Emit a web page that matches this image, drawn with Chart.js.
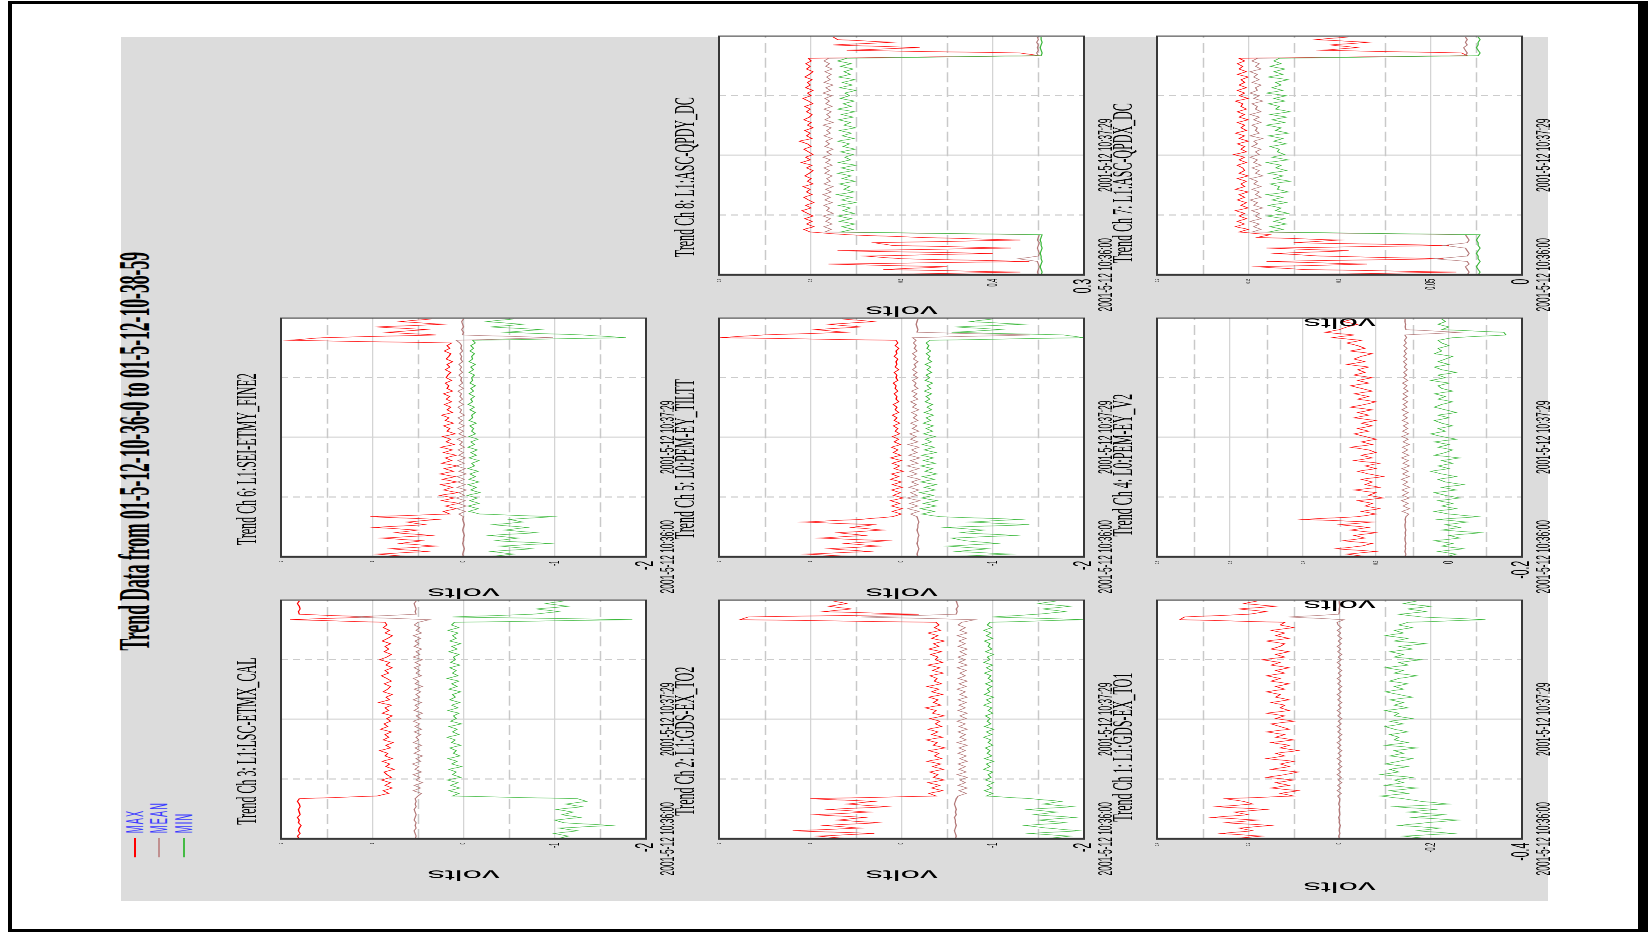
<!DOCTYPE html>
<html>
<head>
<meta charset="utf-8">
<title>Trend Data</title>
<script src="https://cdn.jsdelivr.net/npm/chart.js@4.4.1/dist/chart.umd.min.js"></script>
<style>
  html, body { margin: 0; padding: 0; background: #fff; width: 1648px; height: 932px; overflow: hidden; }
  .bar { position: absolute; background: #000; }
  #sheet { position: absolute; left: 121px; top: 37px; width: 1427px; height: 864px; background: #dcdcdc; }
  /* the sheet is laid out upright, then turned a quarter turn and squeezed along its width */
  #page { position: absolute; left: 0; top: 0; width: 2330px; height: 1648px;
          transform-origin: 0 0; transform: translate(0px, 932px) rotate(-90deg) scale(0.4, 1); }
  .cell { position: absolute; }
  #mainTitle { position: absolute; left: 502px; top: 113px; width: 1400px; text-align: center;
               font: bold 44px 'Liberation Serif', 'Times New Roman', serif; line-height: 44px; color: #000; white-space: nowrap; }
  .lg { position: absolute; left: 187px; height: 24px; display: flex; align-items: center; }
  .lg .sw { width: 48px; height: 2px; margin-right: 12px; }
  .lg .lt { font: 23px 'Liberation Sans', Arial, sans-serif; color: #3a3aff; letter-spacing: 3px; line-height: 24px; }
</style>
</head>
<body>
<div class="bar" style="left:8px;top:1px;width:1640px;height:3px"></div>
<div class="bar" style="left:8px;top:1px;width:4px;height:931px"></div>
<div class="bar" style="left:1638px;top:1px;width:10px;height:931px"></div>
<div class="bar" style="left:8px;top:929px;width:1640px;height:3px"></div>
<div id="sheet"></div>
<div id="page">
  <div id="mainTitle">Trend Data from 01-5-12-10-36-0 to 01-5-12-10-38-59</div>
  <div class="lg" style="top:123px"><span class="sw" style="background:#ff0000"></span><span class="lt">MAX</span></div>
  <div class="lg" style="top:147px"><span class="sw" style="background:#c09090"></span><span class="lt">MEAN</span></div>
  <div class="lg" style="top:172px"><span class="sw" style="background:#44bb44"></span><span class="lt">MIN</span></div>
</div>
<script>
// ---- time axis (seconds after 2001-5-12 10:36:00, one trend sample every 2 s) ----
const TIME_MIN = 0;
const TIME_MAX = 179;
const SAMPLE_STEP = 2;
const TIME_TICKS = [0, 89.5];
const TIME_LABELS = ['2001-5-12 10:36:00', '2001-5-12 10:37:29'];

// ---- volt axes ----
const TICKS_2V = [-2, -1, 0, 1, 2];
const LABELS_2V = ['-2', '-1', '0', '1', '2'];
const CH1_TICKS = [-0.4, -0.2, 0, 0.2, 0.4];
const CH1_LABELS = ['-0.4', '-0.2', '0', '0.2', '0.4'];
const CH4_TICKS = [-0.2, 0, 0.2, 0.4, 0.6, 0.8];
const CH4_LABELS = ['-0.2', '0', '0.2', '0.4', '0.6', '0.8'];
const CH7_TICKS = [0, 0.05, 0.1, 0.15, 0.2];
const CH7_LABELS = ['0', '0.05', '0.1', '0.15', '0.2'];
const CH8_TICKS = [0.3, 0.4, 0.5, 0.6, 0.7];
const CH8_LABELS = ['0.3', '0.4', '0.5', '0.6', '0.7'];

// ---- Ch 1: L1:GDS-EX_TO1 ----
const CH1_MAX = [
  0.24, 0.17, 0.26, 0.19, 0.22, 0.15, 0.25, 0.18, 0.28, 0.20,
  0.23, 0.16, 0.27, 0.19, 0.21, 0.25, 0.10, 0.13, 0.09, 0.15,
  0.11, 0.14, 0.10, 0.16, 0.12, 0.09, 0.15, 0.11, 0.13, 0.10,
  0.16, 0.12, 0.14, 0.09, 0.13, 0.11, 0.15, 0.10, 0.14, 0.12,
  0.16, 0.11, 0.13, 0.15, 0.10, 0.14, 0.12, 0.16, 0.11, 0.13,
  0.12, 0.15, 0.11, 0.14, 0.13, 0.16, 0.12, 0.14, 0.11, 0.15,
  0.13, 0.16, 0.12, 0.14, 0.11, 0.15, 0.13, 0.17, 0.12, 0.14,
  0.11, 0.15, 0.13, 0.12, 0.16, 0.11, 0.14, 0.12, 0.15, 0.10,
  0.13, 0.12, 0.35, 0.34, 0.20, 0.16, 0.22, 0.14, 0.21, 0.18];
const CH1_MEAN = [
  0.000, 0.002, -0.001, 0.001, 0.000, -0.002, 0.001, 0.000, 0.002, -0.001,
  0.000, 0.001, -0.001, 0.002, 0.000, -0.001, 0.004, -0.004, 0.005, -0.003,
  0.004, -0.005, 0.003, -0.004, 0.005, -0.003, 0.004, -0.005, 0.003, -0.004,
  0.005, -0.004, 0.003, -0.005, 0.004, -0.003, 0.005, -0.004, 0.003, -0.005,
  0.004, -0.003, 0.005, -0.004, 0.003, -0.005, 0.004, -0.003, 0.005, -0.004,
  0.003, -0.005, 0.004, -0.003, 0.005, -0.004, 0.003, -0.005, 0.004, -0.003,
  0.005, -0.004, 0.003, -0.005, 0.004, -0.003, 0.005, -0.004, 0.003, -0.005,
  0.004, -0.003, 0.005, -0.004, 0.003, -0.005, 0.004, -0.003, 0.005, -0.004,
  0.003, 0.005, -0.010, 0.110, 0.002, 0.000, 0.001, -0.001, 0.000, 0.001];
const CH1_MIN = [
  -0.20, -0.14, -0.25, -0.17, -0.22, -0.13, -0.19, -0.26, -0.16, -0.23,
  -0.15, -0.21, -0.12, -0.24, -0.18, -0.14, -0.09, -0.15, -0.11, -0.17,
  -0.10, -0.14, -0.12, -0.16, -0.09, -0.13, -0.11, -0.15, -0.10, -0.13,
  -0.16, -0.11, -0.14, -0.12, -0.17, -0.10, -0.15, -0.12, -0.13, -0.11,
  -0.15, -0.12, -0.10, -0.14, -0.11, -0.16, -0.12, -0.13, -0.10, -0.15,
  -0.12, -0.14, -0.11, -0.16, -0.13, -0.10, -0.14, -0.12, -0.15, -0.11,
  -0.13, -0.17, -0.12, -0.14, -0.10, -0.15, -0.13, -0.18, -0.12, -0.14,
  -0.11, -0.16, -0.13, -0.19, -0.12, -0.15, -0.10, -0.14, -0.12, -0.16,
  -0.13, -0.15, -0.32, -0.18, -0.13, -0.19, -0.15, -0.20, -0.14, -0.17];

// ---- Ch 2: L1:GDS-EX_TO2 ----
const CH2_MAX = [
  0.55, 0.92, 0.30, 1.19, 0.45, 0.85, 0.25, 0.70, 0.40, 0.95,
  0.35, 0.80, 0.15, 0.60, 0.30, 1.00, -0.38, -0.30, -0.45, -0.33,
  -0.42, -0.29, -0.47, -0.35, -0.40, -0.31, -0.46, -0.34, -0.43, -0.28,
  -0.44, -0.36, -0.41, -0.30, -0.48, -0.35, -0.39, -0.27, -0.45, -0.33,
  -0.40, -0.29, -0.44, -0.37, -0.42, -0.31, -0.47, -0.34, -0.38, -0.26,
  -0.43, -0.35, -0.40, -0.30, -0.45, -0.33, -0.41, -0.28, -0.44, -0.36,
  -0.39, -0.31, -0.46, -0.34, -0.42, -0.29, -0.45, -0.37, -0.40, -0.32,
  -0.44, -0.30, -0.41, -0.35, -0.47, -0.33, -0.40, -0.29, -0.43, -0.36,
  -0.41, -0.38, 1.77, 1.68, -0.19, 0.86, 0.55, 0.80, 0.60, 0.75];
const CH2_MEAN = [
  -0.59, -0.60, -0.59, -0.58, -0.59, -0.60, -0.59, -0.59, -0.58, -0.60,
  -0.59, -0.60, -0.59, -0.58, -0.59, -0.60, -0.62, -0.71, -0.63, -0.72,
  -0.62, -0.70, -0.64, -0.72, -0.61, -0.71, -0.63, -0.70, -0.62, -0.72,
  -0.64, -0.71, -0.62, -0.70, -0.63, -0.72, -0.61, -0.71, -0.64, -0.70,
  -0.62, -0.72, -0.63, -0.70, -0.61, -0.71, -0.64, -0.72, -0.62, -0.70,
  -0.63, -0.71, -0.62, -0.72, -0.64, -0.70, -0.61, -0.71, -0.63, -0.72,
  -0.62, -0.70, -0.64, -0.71, -0.61, -0.72, -0.63, -0.70, -0.62, -0.71,
  -0.64, -0.72, -0.62, -0.70, -0.63, -0.71, -0.61, -0.72, -0.64, -0.70,
  -0.62, -0.66, -0.81, 0.44, -0.60, -0.61, -0.60, -0.62, -0.61, -0.60];
const CH2_MIN = [
  -1.55, -1.85, -1.40, -1.95, -1.60, -1.35, -1.80, -1.50, -1.90, -1.45,
  -1.70, -1.38, -1.88, -1.55, -1.75, -1.42, -0.93, -1.00, -0.91, -0.99,
  -0.94, -1.01, -0.92, -0.98, -0.95, -1.00, -0.90, -0.97, -0.93, -1.01,
  -0.91, -0.99, -0.94, -0.97, -0.92, -1.00, -0.95, -0.98, -0.90, -0.99,
  -0.93, -1.01, -0.91, -0.98, -0.94, -0.97, -0.92, -1.00, -0.95, -0.99,
  -0.90, -0.98, -0.93, -1.01, -0.91, -0.97, -0.94, -0.99, -0.92, -1.00,
  -0.95, -0.98, -0.91, -0.99, -0.93, -1.00, -0.90, -0.97, -0.94, -1.01,
  -0.92, -0.99, -0.95, -0.97, -0.91, -1.00, -0.93, -0.98, -0.90, -0.99,
  -0.94, -0.97, -2.00, -1.00, -1.48, -1.80, -1.55, -1.85, -1.50, -1.70];

// ---- Ch 3: L1:LSC-ETMX_CAL ----
const CH3_MAX = [
  1.80, 1.82, 1.79, 1.81, 1.80, 1.78, 1.81, 1.80, 1.82, 1.79,
  1.80, 1.81, 1.79, 1.80, 1.82, 1.80, 0.95, 0.82, 0.88, 0.78,
  0.86, 0.80, 0.90, 0.79, 0.84, 0.87, 0.76, 0.85, 0.81, 0.89,
  0.78, 0.86, 0.83, 0.92, 0.80, 0.85, 0.77, 0.88, 0.82, 0.86,
  0.79, 0.91, 0.83, 0.87, 0.80, 0.84, 0.78, 0.89, 0.82, 0.86,
  0.79, 0.93, 0.81, 0.85, 0.78, 0.88, 0.83, 0.80, 0.87, 0.79,
  0.84, 0.90, 0.82, 0.86, 0.78, 0.85, 0.81, 0.92, 0.84, 0.79,
  0.87, 0.82, 0.86, 0.80, 0.89, 0.83, 0.78, 0.86, 0.81, 0.88,
  0.84, 0.86, 1.90, 0.99, 1.80, 1.81, 1.79, 1.80, 1.82, 1.80];
const CH3_MEAN = [
  0.53, 0.52, 0.53, 0.54, 0.52, 0.53, 0.52, 0.54, 0.53, 0.52,
  0.53, 0.54, 0.52, 0.53, 0.52, 0.53, 0.50, 0.46, 0.55, 0.47,
  0.54, 0.45, 0.52, 0.48, 0.55, 0.46, 0.53, 0.49, 0.56, 0.47,
  0.52, 0.45, 0.54, 0.48, 0.53, 0.46, 0.55, 0.49, 0.52, 0.47,
  0.54, 0.46, 0.53, 0.48, 0.55, 0.47, 0.52, 0.45, 0.54, 0.49,
  0.53, 0.46, 0.55, 0.48, 0.52, 0.47, 0.54, 0.45, 0.53, 0.49,
  0.55, 0.46, 0.52, 0.48, 0.54, 0.47, 0.53, 0.45, 0.55, 0.48,
  0.52, 0.46, 0.54, 0.49, 0.53, 0.47, 0.55, 0.46, 0.52, 0.48,
  0.54, 0.50, 0.37, 1.24, 0.52, 0.53, 0.52, 0.53, 0.54, 0.52];
const CH3_MIN = [
  -1.02, -1.15, -0.99, -1.25, -1.05, -1.62, -1.10, -1.00, -1.28, -1.08,
  -1.20, -1.02, -1.30, -1.12, -1.35, -1.25, 0.12, 0.05, 0.16, 0.04,
  0.14, 0.06, 0.18, 0.03, 0.12, 0.08, 0.16, 0.02, 0.13, 0.07,
  0.17, 0.04, 0.11, 0.08, 0.15, 0.03, 0.13, 0.09, 0.18, 0.05,
  0.12, 0.07, 0.16, 0.02, 0.14, 0.08, 0.11, 0.05, 0.17, 0.06,
  0.13, 0.04, 0.15, 0.09, 0.12, 0.03, 0.16, 0.07, 0.13, 0.05,
  0.18, 0.06, 0.12, 0.08, 0.15, 0.04, 0.14, 0.09, 0.11, 0.05,
  0.16, 0.07, 0.13, 0.03, 0.15, 0.08, 0.12, 0.06, 0.17, 0.05,
  0.13, 0.10, -1.85, 0.12, -0.75, -1.05, -0.80, -1.15, -0.90, -1.10];

// ---- Ch 4: L0:PEM-EY_V2 ----
const CH4_MAX = [
  0.22, 0.28, 0.20, 0.31, 0.24, 0.21, 0.29, 0.23, 0.26, 0.20,
  0.27, 0.22, 0.30, 0.21, 0.40, 0.25, 0.20, 0.24, 0.19, 0.23,
  0.21, 0.25, 0.18, 0.22, 0.20, 0.26, 0.19, 0.23, 0.21, 0.24,
  0.18, 0.22, 0.25, 0.20, 0.23, 0.19, 0.26, 0.21, 0.24, 0.20,
  0.22, 0.27, 0.21, 0.24, 0.20, 0.23, 0.26, 0.22, 0.25, 0.21,
  0.24, 0.20, 0.26, 0.22, 0.25, 0.21, 0.27, 0.23, 0.20, 0.25,
  0.22, 0.26, 0.21, 0.24, 0.27, 0.22, 0.25, 0.21, 0.26, 0.23,
  0.25, 0.22, 0.28, 0.23, 0.26, 0.24, 0.21, 0.27, 0.23, 0.25,
  0.28, 0.24, 0.32, 0.26, 0.34, 0.30, 0.28, 0.25, 0.29, 0.26];
const CH4_MEAN = [
  0.120, 0.118, 0.121, 0.119, 0.120, 0.118, 0.120, 0.121, 0.119, 0.120,
  0.118, 0.120, 0.121, 0.119, 0.120, 0.118, 0.110, 0.128, 0.108, 0.126,
  0.112, 0.130, 0.109, 0.127, 0.111, 0.129, 0.108, 0.126, 0.113, 0.130,
  0.109, 0.127, 0.112, 0.129, 0.108, 0.126, 0.111, 0.130, 0.110, 0.127,
  0.113, 0.128, 0.109, 0.126, 0.112, 0.129, 0.110, 0.127, 0.113, 0.125,
  0.111, 0.128, 0.114, 0.126, 0.112, 0.129, 0.115, 0.125, 0.113, 0.127,
  0.114, 0.126, 0.112, 0.124, 0.115, 0.127, 0.113, 0.125, 0.116, 0.124,
  0.114, 0.123, 0.116, 0.125, 0.115, 0.124, 0.117, 0.123, 0.115, 0.124,
  0.117, 0.122, 0.116, 0.121, -0.030, 0.118, 0.120, 0.119, 0.121, 0.120];
const CH4_MIN = [
  0.01, -0.02, 0.03, -0.04, 0.02, -0.01, 0.04, -0.03, 0.00, -0.088,
  0.02, -0.03, 0.01, -0.05, 0.03, -0.08, 0.00, 0.04, -0.02, 0.02,
  -0.01, 0.03, -0.03, 0.01, 0.04, -0.02, 0.02, -0.04, 0.01, 0.03,
  -0.02, 0.02, 0.05, 0.00, 0.03, -0.01, 0.02, -0.03, 0.04, 0.01,
  -0.01, 0.03, 0.00, 0.04, -0.02, 0.02, 0.05, 0.01, 0.03, -0.01,
  0.02, 0.04, 0.00, 0.03, -0.02, 0.01, 0.04, 0.02, -0.01, 0.03,
  0.01, 0.04, -0.01, 0.02, 0.03, 0.00, 0.05, 0.01, 0.03, -0.02,
  0.02, 0.04, 0.00, 0.03, 0.01, -0.01, 0.04, 0.02, 0.03, 0.00,
  0.02, 0.03, -0.01, -0.156, -0.15, 0.02, 0.00, 0.03, 0.01, 0.02];

// ---- Ch 5: L0:PEM-EY_TILTT ----
const CH5_MAX = [
  0.45, 1.05, 0.35, 0.80, 0.25, 0.62, 0.15, 0.90, 0.40, 0.70,
  0.20, 0.55, 0.30, 1.08, 0.45, 0.10, 0.00, 0.10, -0.01, 0.11,
  0.02, 0.12, -0.02, 0.09, 0.01, 0.11, -0.01, 0.10, 0.00, 0.12,
  0.03, 0.11, -0.02, 0.08, 0.02, 0.10, 0.00, 0.12, 0.01, 0.09,
  0.04, 0.11, 0.01, 0.08, 0.03, 0.10, 0.02, 0.07, 0.04, 0.09,
  0.02, 0.08, 0.05, 0.10, 0.03, 0.07, 0.05, 0.09, 0.03, 0.06,
  0.05, 0.08, 0.04, 0.07, 0.06, 0.09, 0.04, 0.06, 0.05, 0.08,
  0.03, 0.07, 0.05, 0.06, 0.04, 0.08, 0.05, 0.06, 0.03, 0.07,
  0.04, 0.06, 1.99, 1.52, 0.60, 0.95, 0.45, 0.80, 0.30, 0.65];
const CH5_MEAN = [
  -0.18, -0.17, -0.18, -0.19, -0.18, -0.17, -0.18, -0.18, -0.19, -0.18,
  -0.17, -0.18, -0.18, -0.19, -0.18, -0.17, -0.10, -0.19, -0.07, -0.18,
  -0.09, -0.20, -0.06, -0.17, -0.10, -0.19, -0.08, -0.18, -0.11, -0.20,
  -0.07, -0.17, -0.09, -0.19, -0.06, -0.18, -0.10, -0.20, -0.08, -0.17,
  -0.11, -0.19, -0.07, -0.18, -0.10, -0.16, -0.09, -0.19, -0.12, -0.17,
  -0.10, -0.18, -0.13, -0.17, -0.11, -0.19, -0.12, -0.16, -0.10, -0.18,
  -0.13, -0.17, -0.11, -0.18, -0.14, -0.16, -0.12, -0.18, -0.13, -0.17,
  -0.12, -0.16, -0.14, -0.18, -0.13, -0.16, -0.12, -0.17, -0.14, -0.16,
  -0.13, -0.16, -0.12, -1.41, -0.17, -0.18, -0.17, -0.16, -0.17, -0.18];
const CH5_MIN = [
  -0.45, -1.20, -0.60, -0.95, -0.50, -1.05, -0.70, -0.55, -1.25, -0.65,
  -0.90, -0.48, -1.40, -0.75, -1.30, -0.42, -0.22, -0.36, -0.21, -0.38,
  -0.24, -0.39, -0.22, -0.35, -0.20, -0.37, -0.25, -0.38, -0.21, -0.36,
  -0.23, -0.39, -0.26, -0.34, -0.21, -0.37, -0.24, -0.35, -0.22, -0.38,
  -0.25, -0.36, -0.23, -0.33, -0.26, -0.37, -0.24, -0.34, -0.27, -0.35,
  -0.24, -0.32, -0.27, -0.35, -0.25, -0.33, -0.28, -0.34, -0.26, -0.31,
  -0.27, -0.33, -0.25, -0.32, -0.28, -0.34, -0.26, -0.31, -0.27, -0.33,
  -0.28, -0.32, -0.26, -0.33, -0.29, -0.31, -0.27, -0.32, -0.28, -0.30,
  -0.27, -0.31, -2.00, -1.78, -0.55, -1.10, -0.60, -1.34, -0.75, -1.00];

// ---- Ch 6: L1:SEI-ETMY_FINE2 ----
const CH6_MAX = [
  0.55, 0.95, 0.40, 0.80, 0.30, 0.70, 0.45, 0.90, 0.35, 0.75,
  0.50, 0.98, 0.42, 0.62, 0.28, 1.02, 0.15, 0.22, 0.08, 0.20,
  0.05, 0.24, 0.10, 0.26, 0.06, 0.22, 0.12, 0.25, 0.07, 0.23,
  0.09, 0.26, 0.11, 0.21, 0.06, 0.24, 0.13, 0.20, 0.08, 0.22,
  0.12, 0.25, 0.10, 0.19, 0.14, 0.23, 0.09, 0.18, 0.15, 0.22,
  0.11, 0.20, 0.16, 0.24, 0.12, 0.18, 0.14, 0.21, 0.13, 0.19,
  0.15, 0.22, 0.12, 0.18, 0.16, 0.20, 0.13, 0.19, 0.17, 0.14,
  0.20, 0.15, 0.18, 0.12, 0.19, 0.16, 0.14, 0.21, 0.15, 0.18,
  0.13, 1.92, 1.54, 0.30, 0.85, 0.40, 0.95, 0.22, 0.70, 0.35];
const CH6_MEAN = [
  0.00, 0.01, 0.00, -0.01, 0.00, 0.01, 0.00, 0.00, -0.01, 0.00,
  0.01, 0.00, -0.01, 0.00, 0.01, 0.00, 0.05, -0.02, 0.07, -0.03,
  0.06, -0.02, 0.08, -0.01, 0.05, -0.03, 0.07, -0.02, 0.06, -0.01,
  0.07, -0.03, 0.05, -0.02, 0.08, -0.01, 0.06, -0.02, 0.05, 0.00,
  0.06, -0.01, 0.04, 0.01, 0.07, -0.02, 0.05, 0.00, 0.06, -0.01,
  0.05, 0.01, 0.06, -0.01, 0.04, 0.02, 0.06, 0.00, 0.05, 0.01,
  0.04, 0.02, 0.06, 0.00, 0.05, 0.01, 0.03, 0.02, 0.05, 0.01,
  0.04, 0.02, 0.05, 0.01, 0.03, 0.02, 0.04, 0.01, 0.03, 0.02,
  0.04, 0.08, -0.98, 0.01, 0.00, 0.02, 0.00, 0.01, 0.02, 0.00];
const CH6_MIN = [
  -0.25, -0.55, -0.30, -0.75, -0.40, -0.95, -0.35, -0.60, -0.28, -0.80,
  -0.45, -0.70, -0.32, -0.65, -0.50, -0.98, -0.18, -0.06, -0.16, -0.05,
  -0.17, -0.07, -0.15, -0.04, -0.18, -0.08, -0.14, -0.05, -0.17, -0.06,
  -0.13, -0.07, -0.16, -0.05, -0.12, -0.09, -0.17, -0.06, -0.14, -0.08,
  -0.15, -0.05, -0.12, -0.08, -0.16, -0.06, -0.13, -0.09, -0.11, -0.07,
  -0.14, -0.06, -0.10, -0.09, -0.13, -0.07, -0.12, -0.05, -0.10, -0.08,
  -0.12, -0.06, -0.11, -0.08, -0.13, -0.07, -0.10, -0.09, -0.12, -0.06,
  -0.11, -0.08, -0.13, -0.06, -0.10, -0.09, -0.12, -0.07, -0.11, -0.08,
  -0.13, -0.10, -1.78, -1.31, -0.45, -0.85, -0.30, -0.65, -0.25, -0.55];

// ---- Ch 7: L1:ASC-QPDX_DC ----
const CH7_MAX = [
  0.130, 0.036, 0.120, 0.145, 0.085, 0.140, 0.043, 0.110, 0.135, 0.095,
  0.140, 0.040, 0.125, 0.100, 0.145, 0.138, 0.155, 0.150, 0.157, 0.152,
  0.156, 0.151, 0.155, 0.152, 0.157, 0.150, 0.154, 0.151, 0.156, 0.152,
  0.155, 0.150, 0.157, 0.152, 0.154, 0.151, 0.156, 0.150, 0.155, 0.152,
  0.153, 0.156, 0.151, 0.155, 0.152, 0.158, 0.151, 0.154, 0.152, 0.156,
  0.150, 0.155, 0.152, 0.157, 0.151, 0.154, 0.152, 0.156, 0.150, 0.155,
  0.152, 0.156, 0.151, 0.154, 0.153, 0.157, 0.150, 0.155, 0.152, 0.156,
  0.151, 0.155, 0.152, 0.154, 0.150, 0.156, 0.151, 0.155, 0.153, 0.156,
  0.152, 0.155, 0.030, 0.033, 0.110, 0.090, 0.105, 0.084, 0.113, 0.095];
const CH7_MEAN = [
  0.030, 0.029, 0.030, 0.031, 0.029, 0.030, 0.048, 0.030, 0.029, 0.030,
  0.031, 0.043, 0.030, 0.029, 0.030, 0.031, 0.148, 0.143, 0.147, 0.144,
  0.149, 0.143, 0.146, 0.144, 0.148, 0.142, 0.147, 0.145, 0.149, 0.143,
  0.146, 0.144, 0.148, 0.143, 0.147, 0.145, 0.149, 0.142, 0.146, 0.144,
  0.148, 0.143, 0.147, 0.145, 0.149, 0.144, 0.146, 0.143, 0.148, 0.145,
  0.147, 0.142, 0.149, 0.144, 0.146, 0.145, 0.148, 0.143, 0.147, 0.144,
  0.149, 0.143, 0.146, 0.145, 0.148, 0.142, 0.147, 0.144, 0.149, 0.145,
  0.146, 0.143, 0.148, 0.144, 0.147, 0.145, 0.149, 0.143, 0.146, 0.144,
  0.148, 0.145, 0.031, 0.030, 0.031, 0.032, 0.030, 0.031, 0.030, 0.031];
const CH7_MIN = [
  0.024, 0.023, 0.024, 0.025, 0.024, 0.023, 0.024, 0.024, 0.025, 0.024,
  0.023, 0.024, 0.024, 0.025, 0.024, 0.023, 0.139, 0.131, 0.138, 0.129,
  0.136, 0.130, 0.140, 0.128, 0.135, 0.132, 0.139, 0.129, 0.137, 0.131,
  0.140, 0.128, 0.134, 0.133, 0.138, 0.127, 0.136, 0.131, 0.139, 0.129,
  0.135, 0.132, 0.140, 0.128, 0.137, 0.130, 0.134, 0.133, 0.138, 0.129,
  0.136, 0.131, 0.139, 0.128, 0.135, 0.132, 0.140, 0.130, 0.137, 0.129,
  0.138, 0.127, 0.135, 0.133, 0.139, 0.130, 0.136, 0.129, 0.140, 0.131,
  0.137, 0.132, 0.135, 0.128, 0.139, 0.131, 0.136, 0.130, 0.138, 0.132,
  0.136, 0.133, 0.024, 0.023, 0.024, 0.025, 0.024, 0.024, 0.023, 0.024];

// ---- Ch 8: L1:ASC-QPDY_DC ----
const CH8_MAX = [
  0.55, 0.37, 0.52, 0.45, 0.58, 0.36, 0.50, 0.54, 0.40, 0.57,
  0.38, 0.51, 0.53, 0.37, 0.48, 0.56, 0.600, 0.607, 0.596, 0.604,
  0.598, 0.606, 0.597, 0.603, 0.609, 0.599, 0.605, 0.596, 0.602, 0.607,
  0.598, 0.604, 0.600, 0.608, 0.597, 0.603, 0.599, 0.606, 0.601, 0.597,
  0.604, 0.598, 0.610, 0.600, 0.605, 0.597, 0.602, 0.607, 0.599, 0.603,
  0.612, 0.598, 0.604, 0.600, 0.606, 0.597, 0.603, 0.599, 0.607, 0.601,
  0.598, 0.604, 0.600, 0.606, 0.597, 0.602, 0.608, 0.599, 0.603, 0.597,
  0.605, 0.600, 0.603, 0.598, 0.606, 0.601, 0.597, 0.604, 0.600, 0.605,
  0.599, 0.602, 0.349, 0.370, 0.560, 0.480, 0.575, 0.510, 0.570, 0.575];
const CH8_MEAN = [
  0.350, 0.351, 0.350, 0.349, 0.350, 0.351, 0.372, 0.350, 0.349, 0.350,
  0.351, 0.350, 0.349, 0.351, 0.350, 0.349, 0.584, 0.577, 0.585, 0.576,
  0.583, 0.578, 0.586, 0.575, 0.582, 0.579, 0.585, 0.576, 0.584, 0.578,
  0.586, 0.577, 0.583, 0.575, 0.585, 0.578, 0.582, 0.576, 0.584, 0.579,
  0.585, 0.576, 0.583, 0.578, 0.586, 0.577, 0.582, 0.575, 0.584, 0.579,
  0.583, 0.576, 0.585, 0.578, 0.582, 0.577, 0.586, 0.575, 0.584, 0.578,
  0.582, 0.577, 0.585, 0.576, 0.583, 0.579, 0.584, 0.576, 0.586, 0.578,
  0.583, 0.575, 0.585, 0.578, 0.582, 0.577, 0.584, 0.576, 0.583, 0.579,
  0.585, 0.580, 0.350, 0.352, 0.350, 0.351, 0.350, 0.352, 0.350, 0.351];
const CH8_MIN = [
  0.347, 0.346, 0.347, 0.348, 0.347, 0.346, 0.347, 0.347, 0.348, 0.347,
  0.346, 0.347, 0.347, 0.348, 0.347, 0.346, 0.567, 0.553, 0.565, 0.551,
  0.568, 0.555, 0.570, 0.552, 0.564, 0.556, 0.569, 0.550, 0.566, 0.554,
  0.571, 0.552, 0.563, 0.557, 0.568, 0.551, 0.565, 0.555, 0.570, 0.553,
  0.566, 0.550, 0.569, 0.556, 0.562, 0.553, 0.567, 0.551, 0.564, 0.557,
  0.570, 0.552, 0.565, 0.555, 0.568, 0.550, 0.563, 0.556, 0.569, 0.553,
  0.566, 0.551, 0.570, 0.555, 0.564, 0.552, 0.567, 0.557, 0.562, 0.550,
  0.568, 0.554, 0.565, 0.551, 0.569, 0.556, 0.563, 0.553, 0.567, 0.555,
  0.570, 0.560, 0.347, 0.346, 0.347, 0.348, 0.347, 0.346, 0.347, 0.347];

// ---- page layout (upright sheet coordinates, before the quarter turn) ----
const COL_X = [232.5, 937.5, 1642.5];   // left edge of each plot column
const ROW_Y = [281, 719, 1157];        // top edge of each plot row
const PLOT_W = 595;
const PLOT_H = 365;
const AXIS_W = [110, 110, 140];         // width of the volts axis, per row
const TITLE_SIZE = 30;
const TITLE_GAP = 15;
const TITLE_BOX = TITLE_SIZE * 1.2 + TITLE_GAP;
const XAXIS_H = 40;
const TICK_SIZES = [26, 14, 7, 6, 6, 6];
const COLORS = { max: '#ff0000', mean: '#b47a7a', min: '#3cb83c' };

const panels = [
  { title: 'Trend Ch 3: L1:LSC-ETMX_CAL',   col: 0, row: 0, ticks: TICKS_2V,  labels: LABELS_2V,  max: CH3_MAX, mean: CH3_MEAN, min: CH3_MIN },
  { title: 'Trend Ch 2: L1:GDS-EX_TO2',     col: 0, row: 1, ticks: TICKS_2V,  labels: LABELS_2V,  max: CH2_MAX, mean: CH2_MEAN, min: CH2_MIN },
  { title: 'Trend Ch 1: L1:GDS-EX_TO1',     col: 0, row: 2, ticks: CH1_TICKS, labels: CH1_LABELS, max: CH1_MAX, mean: CH1_MEAN, min: CH1_MIN },
  { title: 'Trend Ch 6: L1:SEI-ETMY_FINE2', col: 1, row: 0, ticks: TICKS_2V,  labels: LABELS_2V,  max: CH6_MAX, mean: CH6_MEAN, min: CH6_MIN },
  { title: 'Trend Ch 5: L0:PEM-EY_TILTT',   col: 1, row: 1, ticks: TICKS_2V,  labels: LABELS_2V,  max: CH5_MAX, mean: CH5_MEAN, min: CH5_MIN },
  { title: 'Trend Ch 4: L0:PEM-EY_V2',      col: 1, row: 2, ticks: CH4_TICKS, labels: CH4_LABELS, max: CH4_MAX, mean: CH4_MEAN, min: CH4_MIN },
  { title: 'Trend Ch 8: L1:ASC-QPDY_DC',    col: 2, row: 1, ticks: CH8_TICKS, labels: CH8_LABELS, max: CH8_MAX, mean: CH8_MEAN, min: CH8_MIN },
  { title: 'Trend Ch 7: L1:ASC-QPDX_DC',    col: 2, row: 2, ticks: CH7_TICKS, labels: CH7_LABELS, max: CH7_MAX, mean: CH7_MEAN, min: CH7_MIN }
];

Chart.defaults.font.family = "'Liberation Sans', Arial, sans-serif";
Chart.defaults.color = '#000';

const midpoints = vals => vals.slice(1).map((v, i) => (v + vals[i]) / 2);

// white plot face, dashed half-step grid and the dark plot frame
const plotFrame = {
  id: 'plotFrame',
  beforeDraw(chart) {
    const a = chart.chartArea, ctx = chart.ctx;
    ctx.save();
    ctx.fillStyle = '#ffffff';
    ctx.fillRect(a.left, a.top, a.right - a.left, a.bottom - a.top);
    ctx.restore();
  },
  beforeDatasetsDraw(chart, args, opts) {
    const a = chart.chartArea, ctx = chart.ctx;
    const xs = chart.scales.x, ys = chart.scales.y;
    ctx.save();
    ctx.strokeStyle = '#c9c9c9';
    ctx.lineWidth = 1.3;
    ctx.setLineDash([25, 12]);
    opts.minorY.forEach(v => {
      const y = Math.round(ys.getPixelForValue(v)) + 0.5;
      ctx.beginPath(); ctx.moveTo(a.left, y); ctx.lineTo(a.right, y); ctx.stroke();
    });
    ctx.lineWidth = 2.5;
    ctx.setLineDash([7, 5]);
    opts.minorX.forEach(v => {
      const x = xs.getPixelForValue(v);
      ctx.beginPath(); ctx.moveTo(x, a.top); ctx.lineTo(x, a.bottom); ctx.stroke();
    });
    ctx.restore();
  },
  afterDatasetsDraw(chart) {
    const a = chart.chartArea, ctx = chart.ctx;
    ctx.save();
    ctx.strokeStyle = '#383838';
    ctx.lineWidth = 2;
    ctx.beginPath();
    ctx.moveTo(a.left, a.top); ctx.lineTo(a.right, a.top);
    ctx.moveTo(a.left, a.bottom); ctx.lineTo(a.right, a.bottom);
    ctx.stroke();
    ctx.lineWidth = 5;
    ctx.beginPath();
    ctx.moveTo(a.left, a.top - 1); ctx.lineTo(a.left, a.bottom + 1);
    ctx.moveTo(a.right, a.top - 1); ctx.lineTo(a.right, a.bottom + 1);
    ctx.stroke();
    ctx.restore();
  }
};

const page = document.getElementById('page');

function series(values, label, color) {
  return {
    label,
    data: values.map((y, i) => ({ x: i * SAMPLE_STEP, y })),
    borderColor: color,
    borderWidth: 1.3,
    pointRadius: 0,
    tension: 0,
    fill: false
  };
}

function drawPanel(p) {
  const axisW = AXIS_W[p.row];
  const left = COL_X[p.col] - axisW;
  const top = ROW_Y[p.row] - TITLE_BOX;
  const w = Math.round(axisW + PLOT_W + 3);
  const h = Math.round(TITLE_BOX + PLOT_H + XAXIS_H);
  const cell = document.createElement('div');
  cell.className = 'cell';
  cell.style.left = left + 'px';
  cell.style.top = top + 'px';
  cell.style.width = w + 'px';
  cell.style.height = h + 'px';
  const canvas = document.createElement('canvas');
  canvas.width = w; canvas.height = h;
  canvas.style.width = w + 'px'; canvas.style.height = h + 'px';
  cell.appendChild(canvas);
  page.appendChild(cell);

  const yMin = p.ticks[0], yMax = p.ticks[p.ticks.length - 1];
  new Chart(canvas, {
    type: 'line',
    data: { datasets: [
      series(p.min, 'MIN', COLORS.min),
      series(p.mean, 'MEAN', COLORS.mean),
      series(p.max, 'MAX', COLORS.max)
    ] },
    options: {
      responsive: false,
      animation: false,
      devicePixelRatio: 1,
      layout: { padding: 0 },
      plugins: {
        legend: { display: false },
        tooltip: { enabled: false },
        title: {
          display: true, text: p.title, color: '#000',
          font: { family: "'Liberation Serif', 'Times New Roman', serif", size: TITLE_SIZE, weight: 'normal', lineHeight: 1.2 },
          padding: { top: 0, bottom: TITLE_GAP }
        },
        plotFrame: {
          minorX: midpoints([TIME_MIN, TIME_TICKS[1], TIME_MAX]),
          minorY: midpoints(p.ticks)
        }
      },
      scales: {
        x: {
          type: 'linear', min: TIME_MIN, max: TIME_MAX,
          afterBuildTicks: s => { s.ticks = TIME_TICKS.map(v => ({ value: v })); },
          afterFit: s => { s.height = XAXIS_H; },
          ticks: { autoSkip: false, maxRotation: 0, minRotation: 0, padding: 10,
                   font: { size: 21 }, color: '#000',
                   callback: (v, i) => TIME_LABELS[i] },
          grid: { color: '#d4d4d4', lineWidth: 2.5, drawTicks: false },
          border: { display: false }
        },
        y: {
          type: 'linear', min: yMin, max: yMax,
          afterBuildTicks: s => { s.ticks = p.ticks.map(v => ({ value: v })); },
          afterFit: s => { s.width = axisW; },
          ticks: { autoSkip: false, padding: 10, color: '#000',
                   font: ctx => ({ size: TICK_SIZES[ctx.index] || 6 }),
                   callback: (v, i) => p.labels[i] },
          grid: { color: '#d4d4d4', lineWidth: 1.3, drawTicks: false },
          border: { display: false },
          title: { display: true, text: 'volts', color: '#000', font: { size: 35 }, padding: 0 }
        }
      }
    },
    plugins: [plotFrame]
  });
}

panels.forEach(drawPanel);
</script>
</body>
</html>
